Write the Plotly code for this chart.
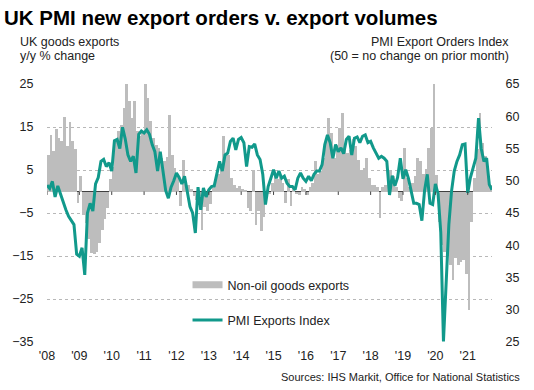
import plotly.graph_objects as go

# ---------------- data ----------------
# PMI export orders index, monthly Jan 2008 .. Oct 2021
pmi_exports = [
    49.3, 48.8, 49.9, 47.5, 49.2, 48.0, 46.5, 45.5, 44.5, 43.8, 43.2, 38.6,   # 2008
    38.3, 39.6, 35.4, 45.0, 46.5, 45.3, 49.5, 50.5, 53.0, 53.3, 52.2, 52.8,   # 2009
    51.5, 56.2, 56.4, 55.0, 58.3, 56.5, 54.0, 53.0, 53.8, 51.2, 57.2, 57.7,   # 2010
    57.4, 57.9, 57.2, 55.6, 54.5, 51.5, 54.5, 51.5, 48.5, 47.3, 49.0, 50.0,   # 2011
    51.2, 50.5, 49.5, 50.7, 48.1, 46.0, 45.0, 41.9, 49.0, 45.5, 48.9, 47.5,   # 2012
    48.6, 49.1, 49.2, 50.9, 53.0, 51.5, 54.0, 54.3, 56.1, 56.6, 54.8, 56.4,   # 2013
    56.7, 55.9, 52.2, 55.3, 55.2, 55.7, 54.0, 53.3, 51.0, 46.3, 49.1, 50.4,   # 2014
    51.7, 50.4, 51.5, 50.4, 50.7, 49.6, 49.1, 49.1, 48.6, 50.4, 51.2, 50.4,   # 2015
    49.9, 50.7, 50.0, 51.0, 51.5, 51.5, 52.5, 55.6, 57.1, 55.9, 53.5, 55.6,   # 2016
    54.5, 55.1, 54.2, 56.4, 56.9, 54.0, 56.6, 56.8, 55.9, 56.9, 57.1, 55.9,   # 2017
    56.1, 55.1, 54.3, 53.5, 53.8, 53.5, 53.0, 47.8, 50.8, 49.2, 50.5, 53.5,   # 2018
    50.3, 51.7, 50.4, 48.5, 46.5, 46.5, 46.3, 43.8, 48.5, 51.0, 46.5, 46.3,   # 2019
    49.5, 48.0, 42.0, 25.1, 35.0, 43.2, 48.4, 51.5, 53.0, 54.0, 55.6, 55.7,   # 2020
    48.1, 50.5, 52.0, 53.5, 59.7, 55.0, 53.0, 53.5, 49.4, 48.6,               # 2021
]

# Non-oil goods exports, y/y % change, monthly Jan 2008 .. Sep 2021
goods_exports = [
    8.5, 13.2, 9.5, 14.6, 12.5, 11.7, 17.4, 10.5, 16.1, 11.7, 10.0, -2.7,     # 2008
    3.6, -5.5, -7.4, -11.0, -14.3, -14.5, -14.0, -12.0, -9.0, -6.5, -3.8, 2.8,  # 2009
    5.8, 11.7, 14.0, 15.5, 19.5, 25.0, 21.0, 17.0, 21.0, 14.0, 13.0, 13.5,    # 2010
    25.0, 21.7, 16.3, 12.4, 10.9, 10.1, 7.8, 7.0, 8.0, 17.9, 8.6, 5.5,        # 2011
    4.0, -3.4, 7.4, 2.4, 1.5, 0.5, -1.0, -2.0, -1.0, -8.9, -3.5, -4.6,        # 2012
    -3.0, 0.8, 3.0, 4.0, 6.0, 12.8, 8.5, 8.6, 3.1, 1.5, 0.8, 1.2,             # 2013
    0.5, 0.3, -3.8, -4.6, 5.1, -7.7, -4.5, -9.3, -6.0, -1.0, -0.5, 2.0,       # 2014
    4.0, 3.0, 3.5, 2.0, -2.7, 3.0, -3.4, 1.0, -0.5, -0.7, 1.0, 0.5,           # 2015
    -0.7, 1.0, 2.0, 7.0, 4.0, 4.7, 7.8, 11.7, 17.1, 13.6, 7.8, 10.9,          # 2016
    14.8, 18.3, 9.7, 8.9, 9.7, 12.1, 10.5, 7.4, 5.0, 5.5, 7.8, 3.1,           # 2017
    1.5, 1.5, 1.0, -6.2, 1.0, 1.5, 5.0, 4.7, 3.5, 1.0, -1.5, -2.3,            # 2018
    10.1, 3.1, 1.0, 2.0, 3.5, 7.7, 7.0, 4.0, 5.3, 10.1, 14.8, 25.0,           # 2019
    3.9, -7.0, -12.4, -14.0, -15.0, -17.0, -20.5, -15.5, -17.0, -16.5, -16.0, -19.3,  # 2020
    -27.5, -7.0, 3.1, 10.0, 18.3, 11.3, 8.2, 4.0, 1.5,                        # 2021
]

year_ticks = [0, 12, 24, 36, 48, 60, 72, 84, 96, 108, 120, 132, 144, 156]
year_labels = ["'08", "'09", "'10", "'11", "'12", "'13", "'14", "'15",
               "'16", "'17", "'18", "'19", "'20", "'21"]
left_ticks = [-35, -25, -15, -5, 5, 15, 25]
right_ticks = [25, 30, 35, 40, 45, 50, 55, 60, 65]

# --------------- styling ---------------
FONT = "Liberation Sans, Arial, sans-serif"
TEAL = "#11998b"
GREY = "#bdbdbd"
TXT = "#222222"
W, H = 534, 390
L, R, T, B = 36, 492, 84, 342   # plot area in pixels


def px(xp):
    return (xp - L) / (R - L)


def py(yp):
    return (B - yp) / (B - T)


m_line = list(range(len(pmi_exports)))
m_bar = [m + 0.5 for m in range(len(goods_exports))]

fig = go.Figure()
fig.add_trace(go.Bar(x=m_bar, y=goods_exports, marker=dict(color=GREY, line=dict(width=0)),
                     showlegend=False, yaxis="y"))
fig.add_trace(go.Scatter(x=m_line, y=pmi_exports, mode="lines",
                         line=dict(color=TEAL, width=3), showlegend=False, yaxis="y2"))
# legend entries
fig.add_trace(go.Scatter(x=[None], y=[None], mode="lines", name="Non-oil goods exports",
                         line=dict(color=GREY, width=7), legendgroup="a"))
fig.add_trace(go.Scatter(x=[None], y=[None], mode="lines", name="PMI Exports Index",
                         line=dict(color=TEAL, width=3), legendgroup="b"))

shapes = []
for t in year_ticks:
    shapes.append(dict(type="line", xref="x", yref="y", x0=t, x1=t, y0=0, y1=-0.8,
                       line=dict(color="#404040", width=1)))


def note(text, x, y, anchor, size=12.5):
    return dict(text=text, x=px(x), y=py(y), xref="paper", yref="paper",
                xanchor=anchor, yanchor="middle", showarrow=False,
                font=dict(family=FONT, size=size, color=TXT))


annotations = [
    note("UK goods exports", 6, 42, "left"),
    note("y/y % change", 6, 56, "left"),
    note("PMI Export Orders Index", 511, 42, "right"),
    note("(50 = no change on prior month)", 511, 56, "right"),
    note("Sources: IHS Markit, Office for National Statistics", 523, 377, "right", 11),
]

fig.update_layout(
    width=W, height=H,
    margin=dict(l=L, r=W - R, t=T, b=H - B, pad=0),
    paper_bgcolor="white", plot_bgcolor="white",
    bargap=0,
    font=dict(family=FONT, size=12, color=TXT),
    title=dict(text="<b>UK PMI new export orders v. export volumes</b>",
               x=4 / W, xanchor="left", y=1 - 18 / H, yanchor="middle",
               font=dict(family=FONT, size=20.5, color="#000000")),
    xaxis=dict(range=[0, 165], tickvals=year_ticks, ticktext=year_labels,
               showgrid=False, zeroline=False, showline=False,
               ticks="outside", ticklen=2, tickcolor="rgba(0,0,0,0)",
               tickfont=dict(family=FONT, size=12.5, color=TXT)),
    yaxis=dict(range=[-35, 25], tickvals=left_ticks, showgrid=True,
               gridcolor="#b8b8b8", griddash="dot", gridwidth=1,
               zeroline=True, zerolinecolor="#404040", zerolinewidth=1,
               ticks="outside", ticklen=10, tickcolor="rgba(0,0,0,0)",
               tickfont=dict(family=FONT, size=12.5, color=TXT)),
    yaxis2=dict(range=[25, 65], tickvals=right_ticks, overlaying="y", side="right",
                showgrid=False, zeroline=False,
                ticks="outside", ticklen=10, tickcolor="rgba(0,0,0,0)",
                tickfont=dict(family=FONT, size=12.5, color=TXT)),
    legend=dict(x=px(180), y=py(270), xanchor="left", yanchor="top",
                bgcolor="rgba(0,0,0,0)", tracegroupgap=16,
                font=dict(family=FONT, size=12.5, color=TXT)),
    shapes=shapes,
    annotations=annotations,
)

fig.write_html("out.html", config={"displayModeBar": False},
               post_script="document.body.style.margin='0';")
